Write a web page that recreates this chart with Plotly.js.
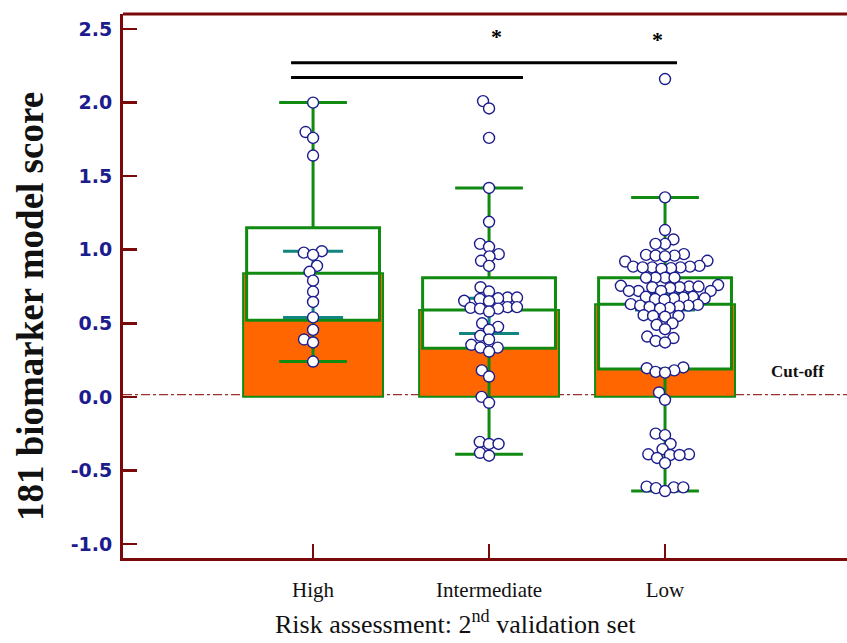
<!DOCTYPE html>
<html>
<head>
<meta charset="utf-8">
<script src="https://cdn.plot.ly/plotly-3.0.1.min.js"></script>
<style>html,body{margin:0;padding:0;background:#fff;}#chart{width:847px;height:643px;}</style>
</head>
<body>
<div id="chart"></div>
<script>
// ---------------- data ----------------
const categories = ["High", "Intermediate", "Low"];
const catPos = [0, 1, 2];

const meanScore   = [0.84, 0.59, 0.63];   // orange bars
const q1Score     = [0.52, 0.33, 0.19];
const q3Score     = [1.15, 0.81, 0.81];
const whiskerLow  = [0.24, -0.39, -0.64];
const whiskerHigh = [2.00, 1.42, 1.355];
const ciLow       = [0.54, 0.43, 0.59];
const ciHigh      = [0.99, 0.67, 0.70];

const highScores = [2.00, 1.80, 1.76, 1.64, 0.99, 0.98, 0.965, 0.89, 0.85, 0.79, 0.715, 0.645,
  0.54, 0.455, 0.39, 0.37, 0.24];

const intermediateScores = [2.01, 1.96, 1.76, 1.42, 1.19, 1.04, 1.02, 0.97, 0.955, 0.925, 0.89,
  0.745, 0.716, 0.675, 0.675, 0.67, 0.665, 0.653, 0.65, 0.61, 0.61, 0.605, 0.60, 0.60, 0.58,
  0.50, 0.476, 0.456, 0.415, 0.39, 0.354, 0.335, 0.335, 0.308, 0.18, 0.138, 0.0, -0.04,
  -0.306, -0.32, -0.32, -0.38, -0.40];

const lowScores = [2.16, 1.356, 1.134, 1.07, 1.04, 1.04,
  0.97, 0.965, 0.96, 0.96, 0.955, 0.925, 0.92,
  0.89, 0.885, 0.885, 0.88, 0.88, 0.88, 0.875, 0.87,
  0.81, 0.81, 0.81, 0.81,
  0.76, 0.755, 0.75, 0.75, 0.745, 0.745, 0.74,
  0.72, 0.72, 0.72, 0.72,
  0.68, 0.68, 0.675, 0.67, 0.67, 0.665, 0.66,
  0.63, 0.625, 0.62, 0.62, 0.615, 0.61, 0.605, 0.60,
  0.555, 0.55, 0.55, 0.545,
  0.50, 0.49, 0.46,
  0.41, 0.40, 0.38, 0.37,
  0.20, 0.195, 0.18, 0.17, 0.165,
  0.03, -0.02,
  -0.25, -0.26, -0.32,
  -0.355, -0.39, -0.39, -0.395, -0.395, -0.415, -0.45,
  -0.61, -0.615, -0.615, -0.62, -0.64];

const cutOff = 0.015;
const yTicks = [-1.0, -0.5, 0.0, 0.5, 1.0, 1.5, 2.0, 2.5];
const yTickText = yTicks.map(v => v.toFixed(1));

// ---------------- layout geometry ----------------
const W = 847, H = 643;
const M = {l: 123, r: 0, t: 14, b: 85};
const xRange = [-1.08, 3.034];
const yRange = [-1.095, 2.602];
const pxPerX = (W - M.l - M.r) / (xRange[1] - xRange[0]);
const pxPerY = (H - M.t - M.b) / (yRange[1] - yRange[0]);

// beeswarm: place each point as close to the category centre as possible without overlap
function swarm(values, diam) {
  const order = values.map((v, i) => i).sort((a, b) => values[a] - values[b]);
  const placed = [];
  const offs = new Array(values.length).fill(0);
  for (const i of order) {
    const y = values[i] * pxPerY;
    const ints = [];
    for (const p of placed) {
      const dy = Math.abs(p.y - y);
      if (dy < diam) {
        const dx = Math.sqrt(diam * diam - dy * dy);
        ints.push([p.x - dx, p.x + dx]);
      }
    }
    const cands = [0];
    ints.forEach(([a, b]) => cands.push(a, b));
    cands.sort((a, b) => Math.abs(a) - Math.abs(b) || a - b);
    let best = 0;
    for (const c of cands) {
      if (ints.every(([a, b]) => c <= a + 1e-6 || c >= b - 1e-6)) { best = c; break; }
    }
    placed.push({x: best, y});
    offs[i] = best / pxPerX;
  }
  return offs;
}

const groups = [highScores, intermediateScores, lowScores];
const dotX = [], dotY = [];
groups.forEach((vals, g) => {
  const offs = swarm(vals, 9.5);
  vals.forEach((v, i) => { dotX.push(catPos[g] + offs[i]); dotY.push(v); });
});

const green = "#118a11";
const teal = "#12857f";
const navy = "#1c1c8e";
const maroon = "#7a0a0a";

const traces = [
  {
    type: "bar", x: catPos, y: meanScore, base: 0, width: 0.795,
    marker: {color: "#ff6600", line: {color: green, width: 2}},
    hoverinfo: "skip", showlegend: false
  },
  {
    type: "box", x: catPos, q1: q1Score, median: meanScore, q3: q3Score,
    lowerfence: whiskerLow, upperfence: whiskerHigh,
    width: 0.755, whiskerwidth: 0.51, fillcolor: "#ffffff",
    line: {color: green, width: 3}, boxpoints: false,
    hoverinfo: "skip", showlegend: false
  },
  {
    type: "scatter", mode: "markers", x: catPos,
    y: ciLow.map((lo, i) => (lo + ciHigh[i]) / 2),
    marker: {size: 1, color: "rgba(0,0,0,0)"},
    error_y: {
      type: "data", symmetric: false,
      array: ciHigh.map((hi, i) => hi - (ciLow[i] + hi) / 2),
      arrayminus: ciLow.map((lo, i) => (lo + ciHigh[i]) / 2 - lo),
      color: teal, thickness: 3, width: 30
    },
    hoverinfo: "skip", showlegend: false
  },
  {
    type: "scatter", mode: "markers", x: dotX, y: dotY,
    marker: {symbol: "circle", size: 11, color: "#ffffff", line: {color: navy, width: 1.4}},
    hoverinfo: "skip", showlegend: false
  }
];

const serif = "Liberation Serif, serif";

const layout = {
  width: W, height: H,
  margin: M,
  paper_bgcolor: "#ffffff", plot_bgcolor: "#ffffff",
  showlegend: false,
  xaxis: {
    range: xRange, tickvals: catPos, ticktext: categories,
    showgrid: false, zeroline: false,
    showline: true, linecolor: maroon, linewidth: 3,
    ticks: "inside", ticklen: 14, tickwidth: 2.5, tickcolor: maroon,
    ticklabelstandoff: 11,
    tickfont: {family: serif, size: 21, color: "#111111"},
    fixedrange: true
  },
  yaxis: {
    range: yRange, tickvals: yTicks, ticktext: yTickText,
    showgrid: false, zeroline: false,
    showline: true, linecolor: maroon, linewidth: 3,
    ticks: "inside", ticklen: 14, tickwidth: 2.5, tickcolor: maroon,
    ticklabelstandoff: 4,
    tickfont: {family: "DejaVu Sans, sans-serif", size: 19, color: navy, weight: "bold"},
    fixedrange: true
  },
  shapes: [
    {type: "line", xref: "paper", yref: "paper", x0: 0, x1: 1, y0: 1, y1: 1,
      line: {color: maroon, width: 3}},
    {type: "line", xref: "paper", yref: "y", x0: 0, x1: 1, y0: cutOff, y1: cutOff, layer: "below",
      line: {color: "#a0302a", width: 1.2, dash: "dashdot"}},
    {type: "line", xref: "x", yref: "y", x0: -0.125, x1: 2.068, y0: 2.27, y1: 2.27,
      line: {color: "#000000", width: 3}},
    {type: "line", xref: "x", yref: "y", x0: -0.125, x1: 1.193, y0: 2.17, y1: 2.17,
      line: {color: "#000000", width: 3}}
  ],
  annotations: [
    {x: 1.045, y: 2.45, xref: "x", yref: "y", text: "<b>*</b>", showarrow: false,
      font: {family: serif, size: 22, color: "#000"}},
    {x: 1.96, y: 2.43, xref: "x", yref: "y", text: "<b>*</b>", showarrow: false,
      font: {family: serif, size: 22, color: "#000"}},
    {x: 2.75, y: 0.17, xref: "x", yref: "y", text: "<b>Cut-off</b>", showarrow: false,
      font: {family: serif, size: 17, color: "#111"}},
    {x: -0.1285, y: 0.463, xref: "paper", yref: "paper", textangle: -90,
      xanchor: "center", yanchor: "middle", showarrow: false,
      text: "<b>181 biomarker model score</b>",
      font: {family: serif, size: 37, color: "#111111"}},
    {x: 0.4586, y: -0.119, xref: "paper", yref: "paper",
      xanchor: "center", yanchor: "middle", showarrow: false,
      text: "Risk assessment: 2<sup>nd</sup> validation set",
      font: {family: serif, size: 26, color: "#111111"}}
  ]
};

Plotly.newPlot("chart", traces, layout, {staticPlot: true, displayModeBar: false});
</script>
</body>
</html>
